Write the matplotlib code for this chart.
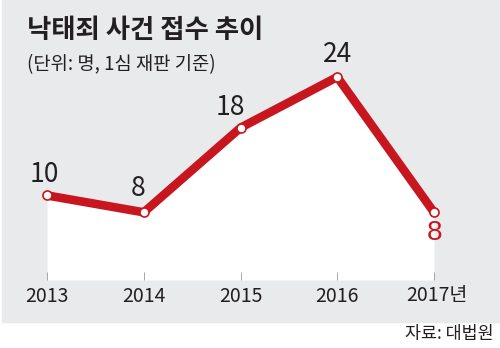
import matplotlib
matplotlib.use('Agg')
import matplotlib.pyplot as plt
from matplotlib.patches import Rectangle

years = [2013, 2014, 2015, 2016, 2017]
cases = [10, 8, 18, 24, 8]
tick_labels = ['2013', '2014', '2015', '2016', '2017년']

RED = '#c8161e'
GREY = '#e9eaec'
DARK = '#231f20'
NUM_FONT = ['Liberation Sans Narrow', 'Noto Sans CJK KR', 'DejaVu Sans']
KR_FONT = ['Noto Sans CJK KR', 'DejaVu Sans']

W, H = 500, 348
fig = plt.figure(figsize=(W / 100, H / 100), dpi=100)
fig.patch.set_facecolor('white')

# grey panel behind title and chart, white strip for the source line
fig.patches.append(Rectangle((2 / W, 1 - 322 / H), 1 - 2 / W, 322 / H,
                             transform=fig.transFigure, color=GREY, zorder=-10))

ax = fig.add_axes([47 / W, 1 - 280 / H, (434 - 47) / W, (280 - 77) / H])
ax.set_zorder(1)
ax.set_xlim(2013, 2017)
ax.set_ylim(0, 24)
ax.patch.set_alpha(0)
for s in ax.spines.values():
    s.set_visible(False)

ax.fill_between(years, cases, 0, color='white', lw=0, zorder=1)
ax.plot(years, cases, color=RED, lw=6.2, solid_joinstyle='round',
        solid_capstyle='round', zorder=3, clip_on=False)
ax.plot(years, cases, ls='none', marker='o', ms=6.5, mfc='white', mec=RED,
        mew=1.2, zorder=4, clip_on=False)

ax.set_yticks([])
ax.set_xticks(years)
ax.set_xticklabels([])
ax.tick_params(axis='x', direction='in', length=6, width=0.6, color='#9a9a9a', pad=0)

# year labels under the axis (y in data units, 16 px below the baseline)
px_per_unit = (280 - 77) / 24
px_per_year = (434 - 47) / 4
for x, lab in zip(years, tick_labels):
    if lab.endswith('년'):
        ax.text(x - 28 / px_per_year, -16 / px_per_unit, lab, ha='left', va='center',
                fontsize=14, color=DARK, family=NUM_FONT, clip_on=False)
    else:
        ax.text(x, -16 / px_per_unit, lab, ha='center', va='center', fontsize=14,
                color=DARK, family=NUM_FONT, clip_on=False)

# value labels: offsets in pixels converted to points; last one red, below the point
offsets = [(-3, 7, 'bottom'), (-6, 10, 'bottom'), (-10, 7, 'bottom'),
           (0, 9, 'bottom'), (0, -8, 'top')]
for i, (x, v) in enumerate(zip(years, cases)):
    dx, dy, va = offsets[i]
    last = i == len(cases) - 1
    ax.annotate(str(v), (x, v), xytext=(dx * 0.72, dy * 0.72),
                textcoords='offset points', ha='center', va=va,
                fontsize=20 if last else 19, color=RED if last else DARK,
                family=['Liberation Sans'] if last else NUM_FONT, zorder=5)

fig.text(27 / W, 1 - 31 / H, '낙태죄 사건 접수 추이', ha='left', va='center',
         fontsize=19, fontweight='bold', color=DARK, family=KR_FONT)
fig.text(27 / W, 1 - 65 / H, '(단위: 명, 1심 재판 기준)', ha='left', va='center',
         fontsize=13.5, color=DARK, family=KR_FONT)
fig.text(494 / W, 1 - 334 / H, '자료: 대법원', ha='right', va='center',
         fontsize=12.5, color=DARK, family=KR_FONT)

fig.savefig('out.png', dpi=100, facecolor=fig.get_facecolor())
